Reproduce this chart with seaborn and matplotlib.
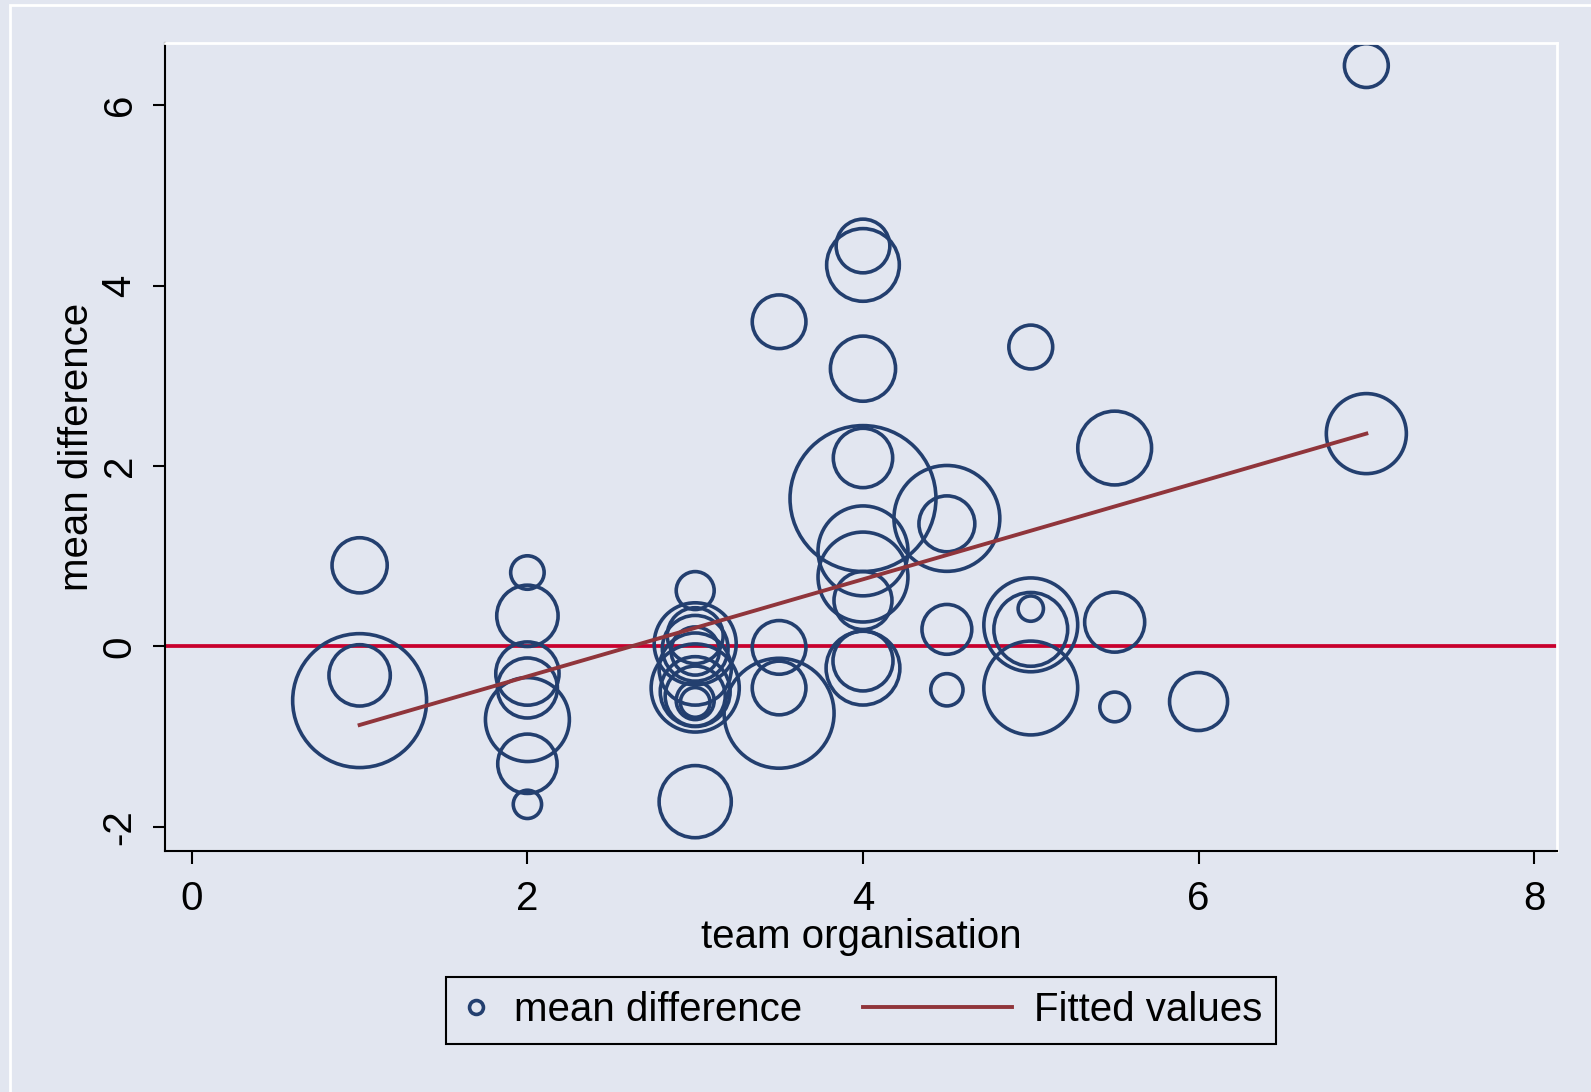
import matplotlib
matplotlib.use("Agg")
import matplotlib.pyplot as plt
from matplotlib.lines import Line2D
from matplotlib.legend_handler import HandlerLine2D
from matplotlib.patches import Rectangle
import numpy as np
import seaborn as sns

# data
team_org = [1, 1, 1,
            2, 2, 2, 2, 2, 2, 2,
            3, 3, 3, 3, 3, 3, 3, 3, 3, 3, 3, 3,
            3.5, 3.5, 3.5, 3.5,
            4, 4, 4, 4, 4, 4, 4, 4, 4, 4,
            4.5, 4.5, 4.5, 4.5,
            5, 5, 5, 5, 5,
            5.5, 5.5, 5.5,
            6,
            7, 7]
mean_diff = [0.90, -0.32, -0.60,
             0.82, 0.34, -0.30, -0.46, -0.81, -1.30, -1.75,
             0.62, 0.12, 0.03, -0.02, -0.05, -0.25, -0.46, -0.50, -0.55, -0.60, -0.62, -1.72,
             3.60, -0.01, -0.46, -0.74,
             4.44, 4.23, 3.08, 2.09, 1.64, 1.06, 0.77, 0.51, -0.16, -0.24,
             1.42, 1.36, 0.19, -0.48,
             3.32, 0.24, 0.19, 0.42, -0.46,
             2.20, 0.27, -0.67,
             -0.61,
             2.36, 6.44]
weight = [38, 47, 224,
          14, 47, 50, 45, 88, 44, 10,
          18, 39, 84, 54, 29, 65, 97, 61, 45, 18, 11, 65,
          36, 36, 36, 151,
          36, 66, 53, 44, 266, 101, 101, 42, 45, 68,
          140, 39, 31, 13,
          24, 110, 68, 8, 110,
          68, 45, 11,
          42,
          80, 24]
fit_x = [1, 7]
fit_y = [-0.87, 2.36]

bg = "#E2E6F0"
navy = "#233F6F"
maroon = "#90353B"
cranberry = "#C8002D"

plt.rcParams["font.family"] = ["Liberation Sans", "DejaVu Sans"]
plt.rcParams["axes.unicode_minus"] = False

fig = plt.figure(figsize=(15.91, 10.92), dpi=100, facecolor=bg)
ax = fig.add_axes([0.1037, 0.2207, 0.8749, 0.7399])
ax.set_facecolor(bg)

# outer white frame of the graph region
fig.patches.append(Rectangle((10 / 1591, -0.1), 1.2, 1.1 - 5 / 1092,
                             transform=fig.transFigure, fill=False,
                             edgecolor="white", linewidth=2, zorder=0))

ax.axhline(0, color=cranberry, lw=2.7, zorder=1)

k = 41.5  # points^2 per unit weight
w = np.array(weight)
sns.scatterplot(x=team_org, y=mean_diff, size=weight, sizes=(k * w.min(), k * w.max()),
                size_norm=(w.min(), w.max()), facecolor="none", edgecolor=navy,
                linewidth=2.6, legend=False, ax=ax, zorder=2)
sns.lineplot(x=fit_x, y=fit_y, color=maroon, lw=2.8, ax=ax, zorder=3)

ax.set_xlim(-0.16, 8.136)
ax.set_ylim(-2.267, 6.69)
ax.set_xticks([0, 2, 4, 6, 8])
ax.set_yticks([-2, 0, 2, 4, 6])
ax.tick_params(axis="both", labelsize=29, length=9, width=1.5, color="black")
ax.tick_params(axis="x", pad=12)
ax.tick_params(axis="y", pad=10, labelrotation=90)
for t in ax.get_yticklabels():
    t.set_va("center")
ax.set_xlabel("team organisation", fontsize=29, labelpad=0)
ax.set_ylabel("mean difference", fontsize=29, labelpad=3)

for s in ["top", "right"]:
    ax.spines[s].set_color("white")
    ax.spines[s].set_linewidth(2)
for s in ["left", "bottom"]:
    ax.spines[s].set_color("black")
    ax.spines[s].set_linewidth(1.5)
ax.grid(False)


class LongLine(HandlerLine2D):
    def create_artists(self, legend, orig_handle, xdescent, ydescent, width,
                       height, fontsize, trans):
        ext = 2.9 * fontsize
        return super().create_artists(legend, orig_handle, xdescent + ext, ydescent,
                                      width + ext, height, fontsize, trans)


h1 = Line2D([], [], ls="none", marker="o", markersize=10, mfc="none", mec=navy, mew=2.6)
h2 = Line2D([], [], color=maroon, lw=2.8)
leg = fig.legend([h1, h2], ["mean difference", "Fitted values"], loc="center",
                 bbox_to_anchor=(0.5412, 0.0747), ncol=2, fontsize=29,
                 handlelength=0.8, handletextpad=0.55, columnspacing=4.4,
                 borderpad=0.35, frameon=True, fancybox=False, framealpha=1,
                 facecolor=bg, edgecolor="black",
                 handler_map={h2: LongLine()})
leg.get_frame().set_linewidth(1.5)

fig.savefig("out.png", dpi=100, facecolor=bg)
